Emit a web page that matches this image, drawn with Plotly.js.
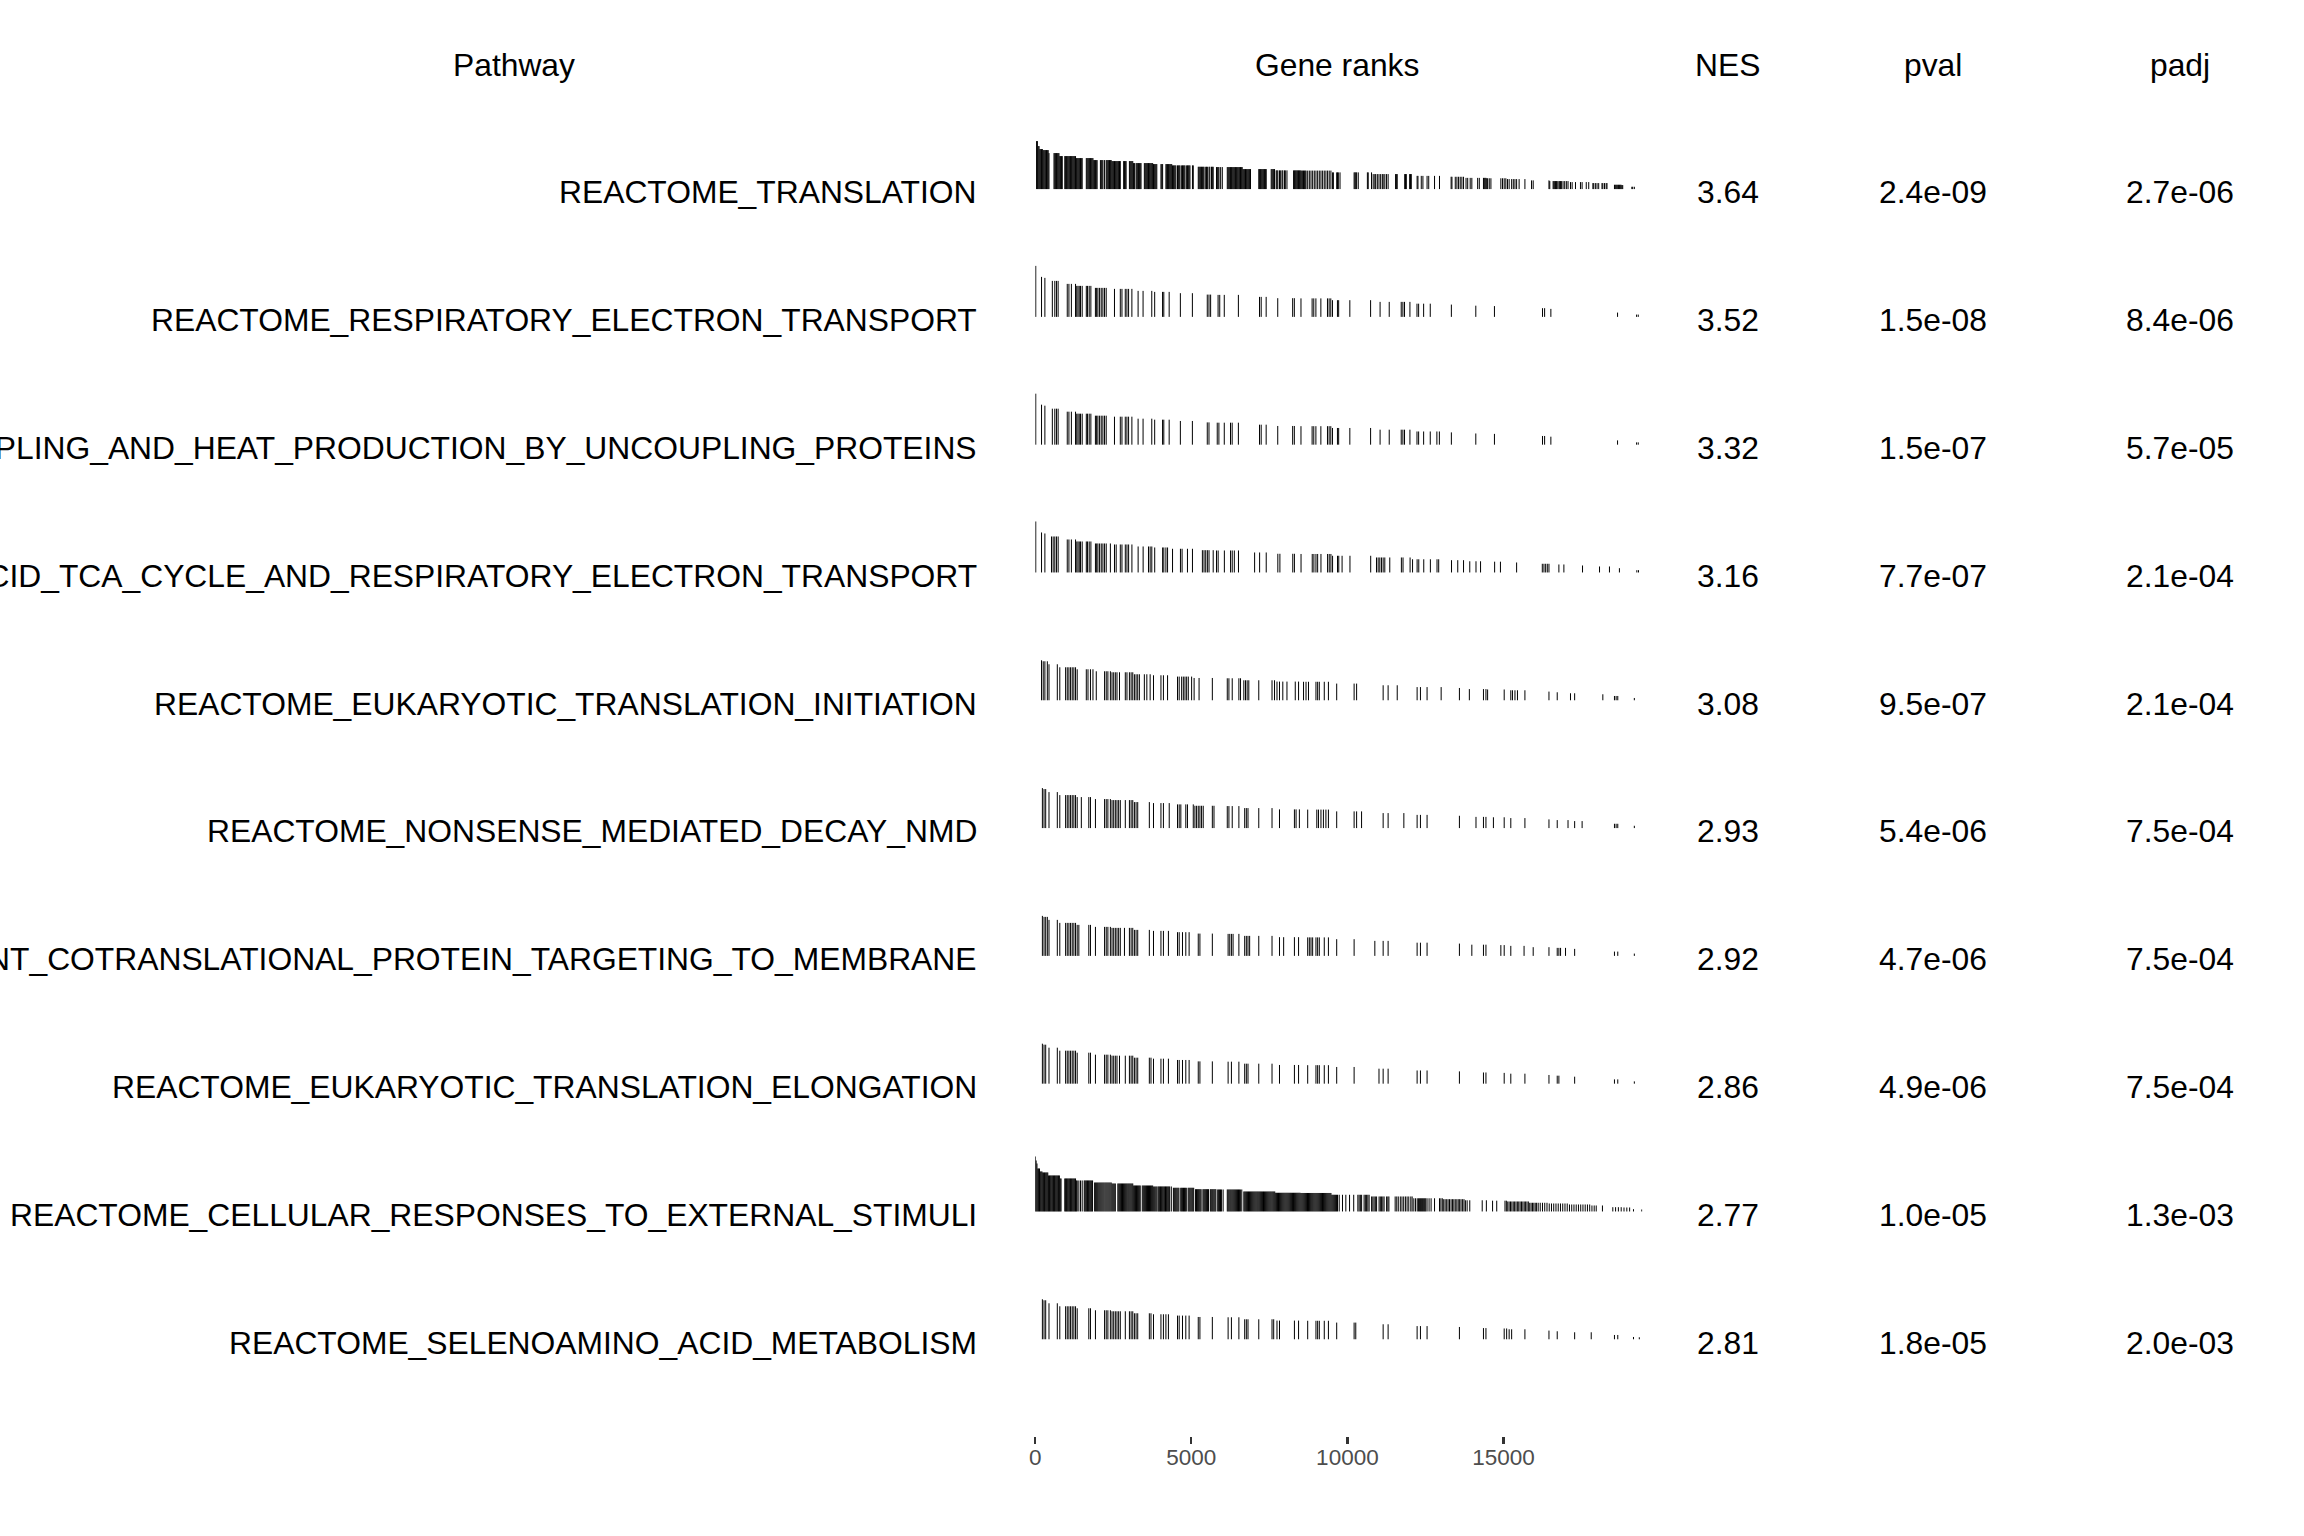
<!DOCTYPE html>
<html><head><meta charset="utf-8">
<script src="https://cdn.plot.ly/plotly-3.0.1.min.js"></script>
<style>html,body{margin:0;padding:0;background:#fff;overflow:hidden;}</style>
</head><body><div id="chart" style="width:2304px;height:1536px;"></div>
<script>
// ---------------- data ----------------
const pathways = [
  "REACTOME_TRANSLATION",
  "REACTOME_RESPIRATORY_ELECTRON_TRANSPORT",
  "REACTOME_RESPIRATORY_ELECTRON_TRANSPORT_ATP_SYNTHESIS_BY_CHEMIOSMOTIC_COUPLING_AND_HEAT_PRODUCTION_BY_UNCOUPLING_PROTEINS",
  "REACTOME_THE_CITRIC_ACID_TCA_CYCLE_AND_RESPIRATORY_ELECTRON_TRANSPORT",
  "REACTOME_EUKARYOTIC_TRANSLATION_INITIATION",
  "REACTOME_NONSENSE_MEDIATED_DECAY_NMD",
  "REACTOME_SRP_DEPENDENT_COTRANSLATIONAL_PROTEIN_TARGETING_TO_MEMBRANE",
  "REACTOME_EUKARYOTIC_TRANSLATION_ELONGATION",
  "REACTOME_CELLULAR_RESPONSES_TO_EXTERNAL_STIMULI",
  "REACTOME_SELENOAMINO_ACID_METABOLISM"
];
const nes  = [3.64, 3.52, 3.32, 3.16, 3.08, 2.93, 2.92, 2.86, 2.77, 2.81];
const pval = [2.4e-09, 1.5e-08, 1.5e-07, 7.7e-07, 9.5e-07, 5.4e-06, 4.7e-06, 4.9e-06, 1.0e-05, 1.8e-05];
const padj = [2.7e-06, 8.4e-06, 5.7e-05, 2.1e-04, 2.1e-04, 7.5e-04, 7.5e-04, 7.5e-04, 1.3e-03, 2.0e-03];
const headers = ["Pathway", "Gene ranks", "NES", "pval", "padj"];
const rankTicks = [0, 5000, 10000, 15000];
const totalGenes = 19450;

// ranked gene statistic, read at sampled ranks
const statRanks  = [0, 10, 25, 47, 100, 177, 307, 546, 1022, 1564, 2160, 2756, 3515, 4056, 4706, 5465, 6115, 7198, 8174, 8824, 10124, 11424, 12724, 13374, 14133, 14783, 15433, 16192, 16733, 17492, 18142, 18684, 18900, 19225, 19442];
const statValues = [5.5, 5.3, 5.1, 4.8, 4.3, 4.0, 3.9, 3.6, 3.3, 3.1, 2.9, 2.8, 2.6, 2.5, 2.37, 2.23, 2.2, 2.0, 1.87, 1.85, 1.67, 1.5, 1.32, 1.23, 1.12, 1.08, 1.0, 0.87, 0.8, 0.7, 0.6, 0.43, 0.4, 0.23, 0.2];

// positions of pathway genes in the ranked list
const ranksTranslation = [44,71,97,124,150,177,203,230,257,283,310,336,363,389,416,442,
602,628,655,681,708,735,761,788,814,841,867,
947,974,1000,1027,1053,1080,1106,1133,1159,1186,1213,1239,1266,1292,1319,1345,1372,1398,1425,1452,1478,1505,
1637,1664,1691,1717,1744,1770,1797,1823,1850,1876,1903,1930,1956,1983,
2089,2116,2142,2169,2222,2275,2301,2328,2354,2381,2408,2434,2461,2487,2514,2540,2567,2594,2620,2647,2673,2700,2726,
2833,2859,2886,2912,3018,3045,3072,3098,3125,3151,3178,3231,3257,3284,3311,3337,3364,3390,
3496,3523,3550,3576,3603,3629,3656,3682,3709,3735,3762,3789,3815,3842,3868,3895,
4028,4054,4081,4187,4213,4240,4267,4293,4320,4346,4373,4399,4426,4452,4479,4506,
4559,4585,4612,4638,4691,4718,4745,4771,4798,4851,4877,4904,4930,4957,5037,5063,
5223,5249,5276,5302,5329,5355,5382,5408,5462,5488,5515,5568,5594,5647,5674,5701,
5807,5833,5860,5886,5940,5993,
6152,6179,6205,6232,6258,6285,6311,6338,6364,6391,6418,6444,6471,6497,6524,6550,6577,6603,6630,6657,6683,6710,6736,6763,6789,6816,6842,6869,6896,
7161,7188,7214,7241,7267,7294,7320,7347,7374,7400,
7559,7586,7613,7639,7666,7719,7745,7772,7825,7852,7905,7931,7984,8011,8064,
8276,8303,8330,8356,8383,8409,8436,8462,8489,8515,8542,8569,8595,8622,8648,8675,8728,8781,8834,8887,8940,8993,9047,9100,9153,9206,9259,9312,9365,9418,9472,9525,9551,
9657,9684,9710,9764,
10215,10242,10268,10295,10348,
10640,10667,10773,10826,10879,10906,10959,11012,11065,11118,11145,11198,11251,11304,
11543,11569,11596,11835,11862,11888,11994,12021,12047,
12233,12260,12366,12419,12552,12605,12791,12950,
13322,13349,13455,13508,13561,13614,13667,13720,13800,13853,13933,13986,14172,14225,14358,14384,14411,14438,14464,14491,14544,14597,
14915,14969,15022,15075,15128,15181,15261,15314,15367,15420,15500,15686,15898,15951,
16456,16482,16589,16615,16642,16668,16695,16721,16774,16801,16828,16854,16907,16960,17013,17067,17146,17199,17306,17465,17518,17651,17730,17863,17890,17943,17996,18049,18155,18182,18235,18288,18315,
18554,18580,18607,18633,18660,18686,18713,18740,18766,18793,18819,19111,19138,19191];

const ranksRespElectron = [18,203,310,549,628,681,734,1027,1080,1159,1292,1331,1371,1411,1452,1505,1637,1677,1730,1783,1929,1968,2009,2062,2115,2168,2221,2274,2539,2726,2779,2885,2938,2991,3097,3296,3455,3734,3827,4079,4119,4291,4650,5035,5512,5566,5619,5858,5911,6056,6508,7185,7239,7398,7769,8247,8300,8513,8870,8923,8991,9150,9362,9415,9468,9522,9681,9720,10078,10743,11047,11340,11724,11777,11830,12003,12229,12282,12442,12654,13330,14113,14710,16250,16317,16517,18653,19263,19316];

const ranksRespAtp = [18,203,310,549,628,681,734,1027,1080,1159,1292,1331,1371,1411,1452,1505,1637,1677,1730,1783,1929,1968,2009,2062,2115,2168,2221,2274,2539,2726,2779,2885,2938,2991,3097,3296,3455,3734,3827,4079,4119,4291,4650,5035,5512,5566,5831,5884,6056,6256,6309,6508,7185,7239,7398,7769,8247,8300,8513,8870,8923,8991,9150,9362,9415,9468,9522,9681,9720,10078,10743,11047,11340,11724,11777,11830,12003,12229,12282,12442,12654,12866,12946,13330,14113,14710,16250,16317,16517,18653,19263,19316];

const ranksTca = [18,203,310,522,575,628,681,735,1027,1080,1159,1292,1332,1372,1412,1452,1505,1637,1677,1730,1784,1930,1969,2009,2062,2116,2169,2222,2275,2408,2540,2594,2726,2779,2886,2939,2992,3098,3297,3457,3629,3682,3735,3828,4081,4120,4187,4240,4399,4652,4705,4877,5037,5355,5408,5462,5515,5568,5701,5807,5860,6059,6258,6311,6378,6511,7028,7188,7400,7772,7838,8250,8303,8515,8874,8927,8993,9047,9153,9365,9418,9472,9525,9684,9724,9830,10082,10746,10932,10985,11038,11091,11145,11198,11357,11729,11782,12008,12087,12233,12286,12446,12658,12871,12924,13335,13535,13720,13920,14119,14265,14716,14902,15420,16243,16296,16350,16403,16456,16774,16934,17531,18076,18394,18713,19271,19324];

const ranksInitiation = [203,257,310,389,442,708,788,974,1027,1080,1133,1186,1239,1292,1345,1637,1691,1770,1850,1956,2222,2275,2328,2408,2461,2514,2567,2620,2700,2886,2939,3018,3072,3125,3178,3231,3284,3337,3496,3576,3682,3789,4028,4107,4240,4559,4612,4691,4745,4798,4851,4904,5010,5090,5249,5674,6152,6205,6311,6524,6577,6683,6736,6789,6842,7161,7586,7666,7745,7825,7931,8064,8330,8436,8595,8675,8754,8993,9047,9100,9259,9392,9657,10215,10295,11145,11304,11596,12233,12340,12552,13003,13588,13906,14358,14438,14491,15022,15234,15287,15367,15447,15686,16456,16721,17146,17279,18182,18554,18607,18660,19191];

const ranksNmd = [230,283,336,442,708,788,974,1027,1080,1133,1186,1239,1292,1345,1478,1717,1770,1930,2222,2275,2328,2408,2461,2514,2567,2620,2673,2726,2886,3018,3072,3125,3178,3231,3284,3656,3789,4028,4107,4293,4559,4612,4665,4824,4877,5063,5116,5169,5223,5276,5329,5382,5674,5727,6152,6205,6311,6524,6710,6763,6816,7161,7586,7825,8303,8356,8462,8728,9020,9073,9153,9232,9312,9392,9657,10215,10295,10454,11145,11304,11808,12233,12340,12552,13588,14119,14358,14438,14677,15022,15234,15686,16456,16721,17067,17279,17518,18554,18607,18660,19191];

const ranksSrp = [230,283,336,389,442,708,788,974,1027,1080,1133,1186,1239,1292,1345,1398,1717,1770,1930,2222,2275,2328,2408,2461,2514,2567,2620,2673,2726,2859,3018,3072,3125,3178,3231,3284,3656,3789,4028,4107,4267,4559,4612,4718,4824,4930,5223,5276,5674,6179,6232,6285,6338,6524,6710,6763,6816,6869,7161,7586,7825,7958,8303,8436,8728,8781,8834,8887,8993,9047,9100,9259,9392,9657,10215,10879,11145,11304,12233,12340,12552,13588,13986,14358,14438,14915,15022,15234,15659,15951,16456,16721,16774,16828,16987,17279,18554,18660,19191];

const ranksElongation = [230,283,336,442,708,788,974,1027,1080,1133,1186,1239,1292,1345,1717,1770,1930,2222,2275,2328,2408,2461,2514,2567,2620,2700,2886,3018,3072,3125,3178,3231,3284,3656,3709,3789,4028,4107,4267,4559,4612,4718,4824,4930,5223,5276,5674,6179,6285,6524,6710,6763,6816,7161,7586,7825,8303,8436,8728,8993,9047,9100,9259,9392,9657,10215,11012,11145,11304,12233,12340,12552,13588,14358,14438,15022,15234,15686,16456,16721,16774,17279,18554,18660,19191];

const ranksExternalStimuli = [4,30,57,84,110,137,163,190,217,243,270,296,323,350,376,403,429,456,483,509,536,562,589,616,642,669,695,722,749,775,802,828,
947,974,1000,1027,1053,1080,1106,1133,1159,1186,1213,1239,1266,1292,1319,1345,
1398,1452,1505,
1571,1597,1624,1650,1677,1704,1730,1757,1783,1810,1837,
1903,1936,1969,2002,2036,2069,2102,2135,2168,2201,2235,2268,2301,2334,2367,2400,2434,2467,2500,2533,2567,
2647,2677,2707,2737,2766,2796,2826,2856,2886,2916,2946,2976,3005,3035,3065,3095,3125,3155,3185,3215,3244,3274,3304,3334,3364,
3430,3463,3496,3529,3563,3596,3629,3662,3695,3729,3762,3795,3828,3862,3895,
3935,3962,3988,4015,4041,4068,4094,4121,4148,4174,4201,4227,4254,4280,4307,4360,
4426,4455,4485,4514,4544,4574,4603,4662,4692,4722,4751,4781,4810,4840,4899,4929,4958,4988,5018,5047,5077,5136,5166,5195,5225,5254,5284,5314,5373,5402,5432,5462,5491,5521,5550,5610,5639,5669,5698,5728,5758,5787,5846,5876,5906,5935,5965,6019,
6152,6182,6212,6242,6272,6302,6332,6362,6392,6422,6452,6482,6512,6542,6572,6617,
6683,6713,6743,6773,6803,6833,6863,6893,6923,6953,6983,7013,7043,7073,7103,7133,7163,7193,7223,7253,7283,7313,7343,7373,7403,7433,7463,7493,7523,7553,7583,7613,7643,7673,7703,7733,7763,7793,7823,7853,7883,7913,7943,7973,8003,8033,8063,8093,8123,8153,8183,8213,8243,8273,8303,8333,8363,8393,8423,8453,8483,8513,8543,8573,8603,8633,8663,8693,8723,8753,8783,8813,8843,8873,8903,8933,8963,8993,9023,9053,9083,9113,9143,9173,9203,9233,9263,9293,9323,9353,9383,9413,9443,9473,9503,9533,9563,9593,9623,9653,9683,9737,
9843,9950,10069,10202,
10335,10375,10415,10455,10535,10575,10615,10655,10695,10775,10815,10855,10895,10935,11015,11055,11095,11135,11175,11255,11295,11330,
11530,11581,11630,11695,11749,11803,11858,11912,11966,12031,12074,12128,12183,12237,12280,12313,12345,12378,12410,12443,12475,12508,12551,12616,12681,12791,
12950,12995,13040,13085,13130,13180,13225,13270,13320,13365,13410,13455,13505,13550,13595,13640,13690,13735,13780,13835,13920,
14318,14451,14650,14783,
15048,15092,15136,15180,15224,15268,15312,15356,15400,15444,15488,15532,15576,15620,15664,15708,15752,15796,15840,15884,15928,15972,16016,16060,16111,
16177,16249,16321,16393,16465,16537,16609,16681,16753,16825,16897,16969,17041,17113,17185,17257,17329,17401,17473,17545,17617,17689,17761,17833,17905,17970,
18169,18501,18590,18680,18770,18860,18950,19040,19164,19430];

const ranksSelenoamino = [230,283,336,442,708,788,974,1027,1080,1133,1186,1239,1292,1345,1717,1770,1930,2222,2275,2328,2408,2461,2514,2567,2620,2673,2726,2886,3018,3072,3125,3178,3231,3284,3656,3709,3789,4028,4107,4187,4267,4559,4612,4718,4824,4930,5223,5276,5674,6179,6285,6524,6710,6763,6816,7161,7586,7639,7745,7825,8303,8436,8728,8993,9047,9100,9259,9392,9657,10215,10268,11145,11304,12233,12340,12552,13588,14358,14438,15022,15101,15181,15261,15686,16456,16721,17279,17810,18554,18660,19164,19350];

const geneRanks = [ranksTranslation, ranksRespElectron, ranksRespAtp, ranksTca, ranksInitiation,
                   ranksNmd, ranksSrp, ranksElongation, ranksExternalStimuli, ranksSelenoamino];

// ---------------- drawing ----------------
const FONT = "Liberation Sans, Arial, Helvetica, sans-serif";
const rowSpacingPx = 127.8;
const statToRow = 10 / rowSpacingPx;   // stat unit -> row units
const baseOffset = -0.026;              // bar baseline relative to row centre
const pxPerRank = 156.1 / 5000;
const axisLeftPx = 1035.2;

function statAt(r) {
  let best = 0, bd = Infinity;
  for (let k = 0; k < statRanks.length; k++) {
    const d = Math.abs(statRanks[k] - r);
    if (d < bd) { bd = d; best = k; }
  }
  return statValues[best];
}

const traces = geneRanks.map((rs, i) => {
  const x = [], y = [];
  const base = i + baseOffset;
  rs.forEach(r => {
    x.push(r, r, null);
    y.push(base, base - statAt(r) * statToRow, null);
  });
  return {type: 'scatter', mode: 'lines', x: x, y: y,
          line: {color: '#000000', width: 1}, hoverinfo: 'skip', showlegend: false};
});

function fmtExp(v) {
  const s = v.toExponential(1);
  const m = s.match(/^(-?[\d.]+)e([+-])(\d+)$/);
  let e = m[3]; if (e.length < 2) e = '0' + e;
  return m[1] + 'e' + m[2] + e;
}

const colX = {pathway: 0.4240, genes: 0.5803, nes: 0.7498, pval: 0.839, padj: 0.9462};
const headerX = [0.2231, colX.genes, colX.nes, colX.pval, colX.padj];
const textFont = {family: FONT, size: 31.8, color: '#000000'};
const ann = [];
const baseAnn = {xref: 'paper', yref: 'y', showarrow: false, yanchor: 'middle', font: textFont, borderpad: 0, borderwidth: 0};
headers.forEach((h, j) => ann.push(Object.assign({}, baseAnn, {x: headerX[j], y: -1, text: h, xanchor: 'center'})));
pathways.forEach((p, i) => {
  ann.push(Object.assign({}, baseAnn, {x: colX.pathway, y: i, text: p, xanchor: 'right'}));
  ann.push(Object.assign({}, baseAnn, {x: colX.nes, y: i, text: nes[i].toFixed(2), xanchor: 'center'}));
  ann.push(Object.assign({}, baseAnn, {x: colX.pval, y: i, text: fmtExp(pval[i]), xanchor: 'center'}));
  ann.push(Object.assign({}, baseAnn, {x: colX.padj, y: i, text: fmtExp(padj[i]), xanchor: 'center'}));
});

const layout = {
  width: 2304, height: 1536,
  margin: {l: 0, r: 0, t: 0, b: 0, pad: 0},
  paper_bgcolor: '#ffffff', plot_bgcolor: 'rgba(0,0,0,0)',
  showlegend: false,
  xaxis: {
    domain: [axisLeftPx / 2304, (axisLeftPx + totalGenes * pxPerRank) / 2304],
    range: [0, totalGenes], anchor: 'free', position: 1 - 1436 / 1536,
    showgrid: false, zeroline: false, showline: false,
    ticks: 'outside', ticklen: 7, tickwidth: 2.2, tickcolor: '#333333',
    ticklabelstandoff: -6,
    tickvals: rankTicks, ticktext: rankTicks.map(String),
    tickfont: {family: FONT, size: 22.5, color: '#4d4d4d'}, fixedrange: true
  },
  yaxis: {
    domain: [0, 1], range: [(1536 - 192.4) / rowSpacingPx, -192.4 / rowSpacingPx],
    visible: false, showgrid: false, zeroline: false, fixedrange: true
  },
  annotations: ann
};

Plotly.newPlot('chart', traces, layout, {staticPlot: true, displayModeBar: false});
</script>
</body></html>
